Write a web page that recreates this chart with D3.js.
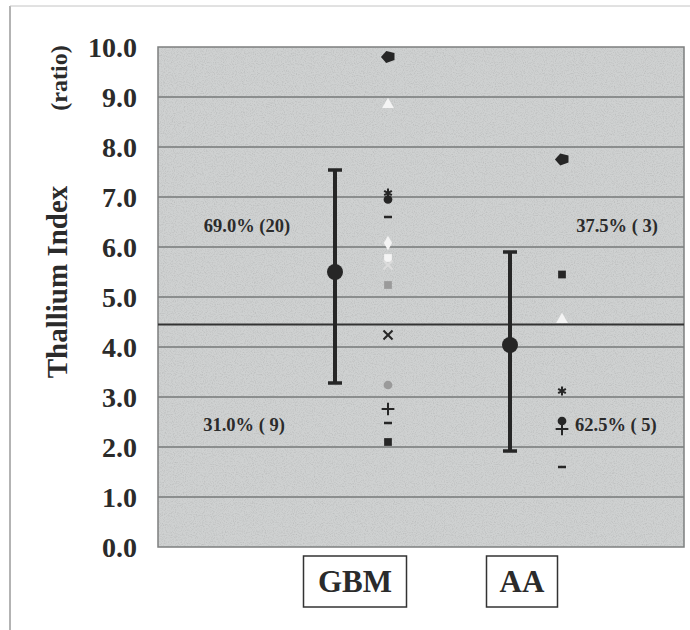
<!DOCTYPE html>
<html>
<head>
<meta charset="utf-8">
<script src="https://cdn.jsdelivr.net/npm/d3@7"></script>
<style>
  body { margin: 0; background: #fff; }
  svg { display: block; }
  text { font-family: "Liberation Serif", "DejaVu Serif", serif; font-weight: bold; fill: #2b2b2b; }
</style>
</head>
<body>
<svg width="690" height="630"></svg>
<script>
// groups and their summary (mean with upper/lower bar)
var categories = ["GBM", "AA"];
var meanValues = [5.5, 4.04];
var upperValues = [7.54, 5.9];
var lowerValues = [3.28, 1.92];

// individual patients
var gbmValues = [9.8, 8.85, 7.08, 6.95, 6.6, 6.08, 5.78, 5.64, 5.24, 4.24, 3.24, 2.76, 2.48, 2.1];
var gbmShapes = ["pent", "triangle", "star", "circle", "dash", "diamond", "square", "x", "square", "x", "circle", "plus", "dash", "square"];
var gbmTones  = ["dark", "white", "dark", "dark", "dark", "white", "white", "light", "gray", "dark", "gray", "dark", "dark", "dark"];

var aaValues = [7.75, 5.45, 4.55, 3.12, 2.52, 2.36, 1.6];
var aaShapes = ["pent", "square", "triangle", "star", "circle", "plus", "dash"];
var aaTones  = ["dark", "dark", "white", "dark", "dark", "dark", "dark"];

var cutoff = 4.45;
var yTicks = [0, 1, 2, 3, 4, 5, 6, 7, 8, 9, 10];
var aboveLabels = ["69.0% (20)", "37.5% ( 3)"];
var belowLabels = ["31.0% ( 9)", "62.5% ( 5)"];
var aboveAt = 6.42, belowAt = 2.45;

var svg = d3.select("svg");

var plotLeft = 158, plotRight = 684, plotTop = 47, plotBottom = 547;

var y = d3.scaleLinear().domain([0, 10]).range([plotBottom, plotTop]);
var x = d3.scalePoint().domain(categories).range([361, 536]);

var tone = { dark: "#262626", white: "#f4f4f4", light: "#dcdcdc", gray: "#9a9a9a" };

// outer frame (only left and top show in the scan)
svg.append("line").attr("x1", 10).attr("x2", 10).attr("y1", 6).attr("y2", 630)
  .style("stroke", "#9a9a9a").style("stroke-width", 1.5);
svg.append("line").attr("x1", 10).attr("x2", 690).attr("y1", 6).attr("y2", 6)
  .style("stroke", "#c4c4c4").style("stroke-width", 1);

// grainy grey plot area
var defs = svg.append("defs");
var f = defs.append("filter").attr("id", "grain").attr("x", 0).attr("y", 0).attr("width", 1).attr("height", 1);
f.append("feTurbulence").attr("type", "fractalNoise").attr("baseFrequency", 0.9).attr("numOctaves", 2).attr("seed", 3).attr("result", "n");
f.append("feColorMatrix").attr("in", "n").attr("type", "matrix")
  .attr("values", "0 0 0 0 0.3  0 0 0 0 0.3  0 0 0 0 0.3  0 0 0 -0.8 0.45").attr("result", "g");
f.append("feComposite").attr("in", "g").attr("in2", "SourceGraphic").attr("operator", "in").attr("result", "g2");
f.append("feMerge").call(function (m) {
  m.append("feMergeNode").attr("in", "SourceGraphic");
  m.append("feMergeNode").attr("in", "g2");
});

svg.append("rect")
  .attr("x", plotLeft).attr("y", plotTop).attr("width", plotRight - plotLeft).attr("height", plotBottom - plotTop)
  .style("fill", "#cfd1d1").attr("filter", "url(#grain)");

svg.append("g").attr("class", "grid")
  .selectAll("line").data(yTicks.slice(1, -1)).enter().append("line")
  .attr("x1", plotLeft).attr("x2", plotRight)
  .attr("y1", function (d) { return y(d); }).attr("y2", function (d) { return y(d); })
  .style("stroke", "#767878").style("stroke-width", 1.4);

svg.append("rect")
  .attr("x", plotLeft).attr("y", plotTop).attr("width", plotRight - plotLeft).attr("height", plotBottom - plotTop)
  .style("fill", "none").style("stroke", "#7d7f7f").style("stroke-width", 1.5);

// cut-off line
svg.append("line")
  .attr("x1", plotLeft).attr("x2", plotRight).attr("y1", y(cutoff)).attr("y2", y(cutoff))
  .style("stroke", "#333").style("stroke-width", 2.2);

// y axis labels
var yAxis = d3.axisLeft(y).tickValues(yTicks).tickFormat(d3.format(".1f")).tickSize(0).tickPadding(0);
var ax = svg.append("g").attr("transform", "translate(137,0)").call(yAxis);
ax.select(".domain").remove();
ax.selectAll("text")
  .attr("font-family", null).attr("fill", null)
  .style("font-size", "28px").attr("dy", "0.35em");

// axis title
svg.append("text")
  .attr("transform", "translate(67,282) rotate(-90)")
  .attr("text-anchor", "middle")
  .style("font-size", "29px")
  .text("Thallium Index");
svg.append("text")
  .attr("transform", "translate(67,78) rotate(-90)")
  .attr("text-anchor", "middle")
  .style("font-size", "24px")
  .text("(ratio)");

// marker shapes
var pent = {
  draw: function (ctx, size) {
    var r = Math.sqrt(size) * 0.62;
    ctx.moveTo(-r * 1.2, 0);
    ctx.lineTo(-r * 0.3, -r);
    ctx.lineTo(r * 1.1, -r * 0.7);
    ctx.lineTo(r * 1.1, r * 0.5);
    ctx.lineTo(-r * 0.3, r);
    ctx.closePath();
  }
};
var shapeType = {
  pent: pent,
  triangle: d3.symbolTriangle,
  star: d3.symbolAsterisk,
  circle: d3.symbolCircle,
  diamond: d3.symbolDiamond,
  square: d3.symbolSquare,
  x: d3.symbolX,
  plus: d3.symbolPlus,
  dash: null
};
var stroked = { star: 1, x: 1, plus: 1 };

function drawPoints(values, shapes, tones, cx) {
  var pts = values.map(function (v, i) { return { v: v, s: shapes[i], t: tones[i] }; });
  var g = svg.append("g").attr("class", "points");
  pts.forEach(function (d) {
    if (d.s === "dash") {
      g.append("line")
        .attr("x1", cx - 4).attr("x2", cx + 4).attr("y1", y(d.v)).attr("y2", y(d.v))
        .style("stroke", tone[d.t]).style("stroke-width", 2.5);
      return;
    }
    var size = d.s === "pent" ? 90 : (stroked[d.s] ? 55 : 60);
    g.append("path")
      .attr("transform", "translate(" + cx + "," + y(d.v) + ")")
      .attr("d", d3.symbol().type(shapeType[d.s]).size(size)())
      .style("fill", stroked[d.s] ? "none" : tone[d.t])
      .style("stroke", stroked[d.s] ? tone[d.t] : "none")
      .style("stroke-width", 2);
  });
}

drawPoints(gbmValues, gbmShapes, gbmTones, x("GBM") + 27);
drawPoints(aaValues, aaShapes, aaTones, x("AA") + 26);

// mean and range bars
var bars = svg.append("g").attr("class", "bars")
  .selectAll("g").data(categories).enter().append("g")
  .attr("transform", function (d) { return "translate(" + (x(d) - 26) + ",0)"; });

bars.append("line")
  .attr("y1", function (d, i) { return y(upperValues[i]); })
  .attr("y2", function (d, i) { return y(lowerValues[i]); })
  .style("stroke", "#262626").style("stroke-width", 4);
bars.selectAll(".cap")
  .data(function (d, i) { return [upperValues[i], lowerValues[i]]; })
  .enter().append("line").attr("class", "cap")
  .attr("x1", -7).attr("x2", 7)
  .attr("y1", function (v) { return y(v); }).attr("y2", function (v) { return y(v); })
  .style("stroke", "#262626").style("stroke-width", 3.5);
bars.append("circle")
  .attr("cy", function (d, i) { return y(meanValues[i]); })
  .attr("r", 8)
  .style("fill", "#262626");

// percentage labels
var pct = svg.append("g").attr("class", "pct").style("font-size", "18.5px");
pct.append("text").attr("x", 247).attr("y", y(aboveAt)).attr("dy", "0.35em")
  .attr("text-anchor", "middle").text(aboveLabels[0]);
pct.append("text").attr("x", 244).attr("y", y(belowAt)).attr("dy", "0.35em")
  .attr("text-anchor", "middle").text(belowLabels[0]);
pct.append("text").attr("x", 617).attr("y", y(aboveAt)).attr("dy", "0.35em")
  .attr("text-anchor", "middle").text(aboveLabels[1]);
pct.append("text").attr("x", 575).attr("y", y(belowAt)).attr("dy", "0.35em")
  .attr("text-anchor", "start").text(belowLabels[1]);

// category boxes under the plot
var boxW = { GBM: 103, AA: 71 };
var boxShift = { GBM: -6, AA: -14 };
var cat = svg.append("g").attr("class", "cats")
  .selectAll("g").data(categories).enter().append("g")
  .attr("transform", function (d) { return "translate(" + (x(d) + boxShift[d]) + ",581)"; });
cat.append("rect")
  .attr("x", function (d) { return -boxW[d] / 2; }).attr("y", -25)
  .attr("width", function (d) { return boxW[d]; }).attr("height", 51)
  .style("fill", "#fff").style("stroke", "#333").style("stroke-width", 1.5);
cat.append("text")
  .attr("text-anchor", "middle").attr("dy", "0.36em")
  .style("font-size", "31px")
  .text(function (d) { return d; });
</script>
</body>
</html>
